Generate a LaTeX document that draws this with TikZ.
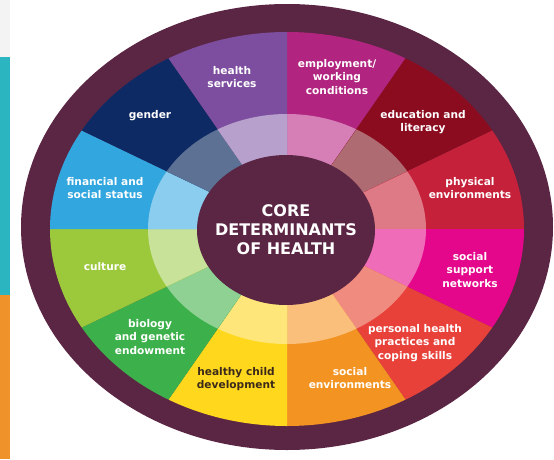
\documentclass[tikz,border=0pt]{standalone}
\usepackage{fontspec}
\setmainfont{DejaVu Sans}
\begin{document}
\begin{tikzpicture}[x=1pt,y=1pt,
  lbl/.style={text=white,font=\bfseries\fontsize{10.6}{13.3}\selectfont,align=center,inner sep=0pt},
  core/.style={text=white,font=\bfseries\fontsize{16}{19}\selectfont,align=center,inner sep=0pt}]
\definecolor{dpurple}{HTML}{5B2644}
\definecolor{tealc}{HTML}{2BB5C0}
\definecolor{orng}{HTML}{F0922A}
\definecolor{gry}{HTML}{F3F3F3}
\definecolor{darktxt}{HTML}{3B2A1A}
\useasboundingbox (0,0) rectangle (554,459);
\fill[white] (0,0) rectangle (554,459);
% left strips
\fill[gry] (0,402) rectangle (10,459);
\fill[tealc] (0,164) rectangle (10,402);
\fill[orng] (0,0) rectangle (10,164);
% outer ellipse
\fill[dpurple] (287,232) ellipse[x radius=266, y radius=223];
\coordinate (C) at (287,230);
% wedges: start angle, dark colour, light colour
\foreach \a/\d/\l in {60/B1247F/D67FB7, 30/8B0C1F/AE6B72, 0/C6213A/DE7A85,
  -30/E5078B/EF6CB8, -60/E8413A/F08B80, -90/F39422/F9BF7B, -120/FFD81E/FFE67A,
  -150/3CB04A/8ED193, -180/9CC83C/C8E29A, 150/32A6DE/8ACDEE, 120/0E2A64/5C7194,
  90/7D4E9F/B7A0CB}{
  \definecolor{dk}{HTML}{\d}\definecolor{lt}{HTML}{\l}
  \pgfmathsetmacro{\b}{\a+30}
  \fill[dk] (C) -- ++(\a:237pt and 197pt) arc[start angle=\a, end angle=\b, x radius=237pt, y radius=197pt] -- cycle;
  \fill[lt] (C) -- ++(\a:139pt and 115pt) arc[start angle=\a, end angle=\b, x radius=139pt, y radius=115pt] -- cycle;
}
\fill[dpurple] (286,229) ellipse[x radius=89, y radius=75];
\node[core] (core) at (286,229) {CORE\\DETERMINANTS\\OF HEALTH};
% labels
\node[lbl] (hs) at (232,382) {health\\services};
\node[lbl] (emp) at (337,382) {employment/\\working\\conditions};
\node[lbl] (edu) at (423,337) {education and\\literacy};
\node[lbl] (phys) at (470,271) {physical\\environments};
\node[lbl] (ssn) at (470,189) {social\\support\\networks};
\node[lbl] (php) at (415,116) {personal health\\practices and\\coping skills};
\node[lbl] (senv) at (350,81) {social\\environments};
\node[lbl,text=darktxt] (hcd) at (236,80) {healthy child\\development};
\node[lbl] (bio) at (150,122) {biology\\and genetic\\endowment};
\node[lbl] (cul) at (105,192) {culture};
\node[lbl] (fin) at (105,271) {financial and\\social status};
\node[lbl] (gen) at (150,343) {gender};
\end{tikzpicture}
\end{document}
